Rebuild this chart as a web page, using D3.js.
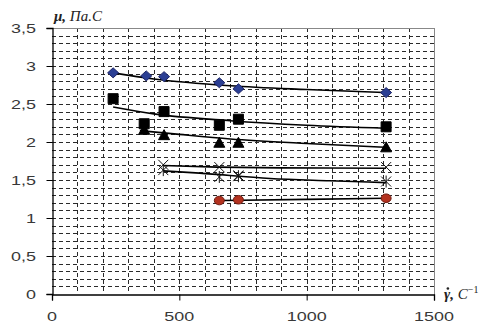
<!DOCTYPE html>
<html>
<head>
<meta charset="utf-8">
<script src="https://cdn.jsdelivr.net/npm/d3@7"></script>
<style>
  body { margin: 0; background: #fff; }
  svg { display: block; }
  .tick-label { font-family: "Liberation Sans", Arial, sans-serif; font-size: 13px; fill: #383838; }
  .axis-title { font-family: "Liberation Serif", "Times New Roman", serif; font-style: italic; font-size: 15px; fill: #222; }
</style>
</head>
<body>
<svg id="chart" width="494" height="324"></svg>
<script>
// measured points, shear rate (1/s) vs viscosity (Pa.s)
const diamondX = [240, 370, 440, 657, 732, 1312];
const diamondY = [2.91, 2.87, 2.86, 2.78, 2.70, 2.65];
const squareX = [240, 362, 440, 657, 732, 1312];
const squareY = [2.57, 2.24, 2.40, 2.22, 2.30, 2.20];
const triangleX = [362, 440, 657, 732, 1312];
const triangleY = [2.16, 2.09, 1.99, 1.99, 1.93];
const crossX = [437, 657, 732, 1312];
const crossY = [1.70, 1.67, 1.56, 1.67];
const starX = [437, 657, 732, 1312];
const starY = [1.63, 1.54, 1.55, 1.48];
const circleX = [657, 732, 1312];
const circleY = [1.23, 1.24, 1.26];

// trend lines
const diamondTrendX = [240, 400, 700, 1000, 1312];
const diamondTrendY = [2.91, 2.83, 2.74, 2.69, 2.65];
const squareTrendX = [240, 400, 700, 1000, 1312];
const squareTrendY = [2.46, 2.37, 2.28, 2.22, 2.18];
const triangleTrendX = [345, 500, 700, 1000, 1312];
const triangleTrendY = [2.15, 2.10, 2.04, 1.98, 1.93];
const crossTrendX = [437, 650, 900, 1312];
const crossTrendY = [1.69, 1.67, 1.66, 1.655];
const starTrendX = [437, 580, 856, 1090, 1312];
const starTrendY = [1.62, 1.59, 1.52, 1.49, 1.465];
const circleTrendX = [657, 1000, 1312];
const circleTrendY = [1.23, 1.245, 1.26];

const xTicks = [0, 500, 1000, 1500];
const yTicks = [0, 0.5, 1, 1.5, 2, 2.5, 3, 3.5];
const yTickLabels = ['0', '0,5', '1', '1,5', '2', '2,5', '3', '3,5'];

const svg = d3.select('#chart');
const margin = { left: 52, top: 28, right: 434, bottom: 294 };

const x = d3.scaleLinear().domain([0, 1500]).range([margin.left, margin.right]);
const y = d3.scaleLinear().domain([0, 3.5]).range([margin.bottom, margin.top]);

// dashed grid: every 100 on x, every 0.1 on y
const grid = svg.append('g').attr('stroke', '#2a2a2a').attr('stroke-width', 1).attr('stroke-dasharray', '4,3');
grid.selectAll('.vg')
  .data(d3.range(100, 1500, 100))
  .enter().append('line')
  .attr('x1', d => Math.round(x(d)) + 0.5).attr('x2', d => Math.round(x(d)) + 0.5)
  .attr('y1', margin.top).attr('y2', margin.bottom);
grid.selectAll('.hg')
  .data(d3.range(1, 35).map(i => i / 10))
  .enter().append('line')
  .attr('x1', margin.left).attr('x2', margin.right)
  .attr('y1', d => Math.round(y(d)) + 0.5).attr('y2', d => Math.round(y(d)) + 0.5);

// frame
svg.append('line').attr('x1', margin.left).attr('x2', margin.right + 0.5)
  .attr('y1', margin.top + 0.5).attr('y2', margin.top + 0.5).attr('stroke', '#888');
svg.append('line').attr('x1', margin.right + 0.5).attr('x2', margin.right + 0.5)
  .attr('y1', margin.top).attr('y2', margin.bottom).attr('stroke', '#888');

// axes
const xAxis = svg.append('g').attr('transform', `translate(0,${margin.bottom + 0.5})`)
  .call(d3.axisBottom(x).tickValues(xTicks).tickSize(6).tickFormat(''));
const yAxis = svg.append('g').attr('transform', `translate(${margin.left + 0.5},0)`)
  .call(d3.axisLeft(y).tickValues(yTicks).tickSize(6).tickFormat(''));
[xAxis, yAxis].forEach(a => {
  a.select('.domain').attr('stroke', '#000').attr('stroke-width', 1.3);
  a.selectAll('.tick line').attr('stroke', '#000');
});

function stretch(sel, k) {
  sel.each(function() {
    const w = this.getComputedTextLength();
    d3.select(this).attr('textLength', w * k).attr('lengthAdjust', 'spacingAndGlyphs');
  });
}

svg.selectAll('.xl')
  .data(xTicks)
  .enter().append('text')
  .attr('class', 'tick-label')
  .attr('x', d => x(d)).attr('y', 321)
  .attr('text-anchor', 'middle')
  .text(d => d)
  .call(stretch, 1.38);

svg.selectAll('.yl')
  .data(yTicks)
  .enter().append('text')
  .attr('class', 'tick-label')
  .attr('x', 36).attr('y', d => y(d) + 4.5)
  .attr('text-anchor', 'end')
  .text((d, i) => yTickLabels[i])
  .call(stretch, 1.38);

// axis titles
const yt = svg.append('text').attr('class', 'axis-title').attr('x', 54).attr('y', 21);
yt.append('tspan').attr('font-weight', 'bold').text('μ, ');
yt.append('tspan').text('Па.С');

const xt = svg.append('text').attr('class', 'axis-title').attr('x', 444).attr('y', 299);
xt.append('tspan').attr('font-weight', 'bold').text('γ, ');
xt.append('tspan').text('С');
xt.append('tspan').attr('font-size', '10px').attr('dy', -6).attr('font-style', 'normal').text('−1');
// dot over gamma
const gBox = xt.node().getExtentOfChar(0);
svg.append('circle')
  .attr('cx', gBox.x + gBox.width * 0.62).attr('cy', 288.5)
  .attr('r', 1.3).attr('fill', '#222');

// trend lines
const line = d3.line().x(d => x(d[0])).y(d => y(d[1])).curve(d3.curveMonotoneX);
const trends = [
  [diamondTrendX, diamondTrendY],
  [squareTrendX, squareTrendY],
  [triangleTrendX, triangleTrendY],
  [crossTrendX, crossTrendY],
  [starTrendX, starTrendY],
  [circleTrendX, circleTrendY]
];
svg.append('g').selectAll('path')
  .data(trends)
  .enter().append('path')
  .attr('d', t => line(d3.zip(t[0], t[1])))
  .attr('fill', 'none')
  .attr('stroke', '#000')
  .attr('stroke-width', 1.6);

// markers
const shapes = {
  diamond: 'M0,-5L5.5,0L0,5L-5.5,0Z',
  square: 'M-5,-5H5V5H-5Z',
  triangle: 'M0,-5.5L5.5,4.5H-5.5Z',
  cross: 'M-5,-5L5,5M5,-5L-5,5',
  star: 'M-5,-5L5,5M5,-5L-5,5M0,-6V6',
  circle: 'M-5,0A5,4.3 0 1,0 5,0A5,4.3 0 1,0 -5,0Z'
};
const series = [
  { xs: diamondX, ys: diamondY, shape: 'diamond', fill: '#2b3f94', stroke: '#1b2366' },
  { xs: squareX, ys: squareY, shape: 'square', fill: '#000', stroke: '#000' },
  { xs: triangleX, ys: triangleY, shape: 'triangle', fill: '#000', stroke: '#000' },
  { xs: crossX, ys: crossY, shape: 'cross', fill: 'none', stroke: '#111' },
  { xs: starX, ys: starY, shape: 'star', fill: 'none', stroke: '#111' },
  { xs: circleX, ys: circleY, shape: 'circle', fill: '#b3321f', stroke: '#6e1a10' }
];
series.forEach(s => {
  svg.append('g').selectAll('path')
    .data(d3.zip(s.xs, s.ys))
    .enter().append('path')
    .attr('transform', d => `translate(${x(d[0])},${y(d[1])})`)
    .attr('d', shapes[s.shape])
    .attr('fill', s.fill)
    .attr('stroke', s.stroke)
    .attr('stroke-width', 1);
});
</script>
</body>
</html>
